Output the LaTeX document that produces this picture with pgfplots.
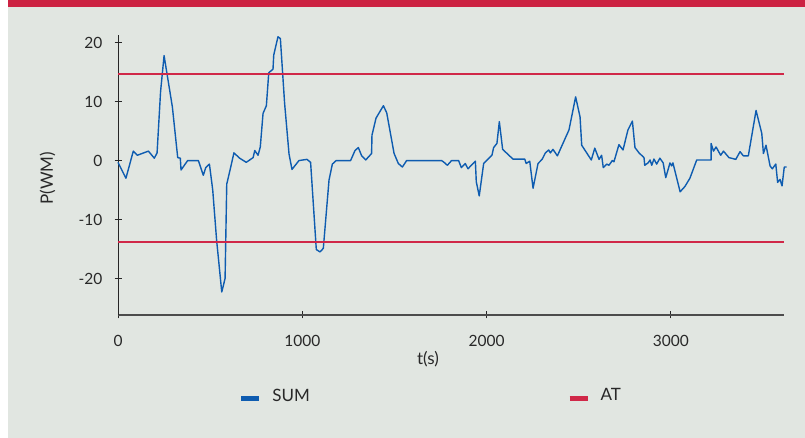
\documentclass[border=0pt]{standalone}
\usepackage{fontspec}
\setmainfont{Lato}
\usepackage{pgfplots}
\pgfplotsset{compat=1.18}
\definecolor{bgc}{RGB}{225,230,225}
\definecolor{topred}{RGB}{204,34,66}
\definecolor{sumblue}{RGB}{14,92,176}
\definecolor{atred}{RGB}{208,40,72}
\definecolor{txt}{RGB}{40,40,40}
\begin{document}
\begin{tikzpicture}[x=1pt,y=1pt]
\fill[white] (0,0) rectangle (805,438);
\fill[bgc] (8,0) rectangle (805,431);
\fill[topred] (8,431) rectangle (805,438);
\begin{axis}[
  at={(118pt,123pt)}, anchor=south west,
  scale only axis, width=665.7pt, height=280pt,
  xmin=0, xmax=3612, ymin=-26.2, ymax=21.3,
  clip=false,
  unbounded coords=jump,
  axis x line*=bottom, axis y line*=left,
  x axis line style={draw=black!70, line width=1.8pt},
  y axis line style={draw=black!85, line width=1pt},
  tick style={draw=black!85, line width=0.9pt},
  major tick length=7pt, tick align=center,
  xtick={0,1000,2000,3000}, ytick={-20,-10,0,10,20},
  /pgf/number format/assume math mode=true,
  /pgf/number format/1000 sep={},
  tick label style={font=\fontsize{15.5}{18}\selectfont, text=txt},
  xticklabel style={anchor=base, inner sep=0pt, yshift=-28.4pt},
  yticklabel style={anchor=east, inner sep=0pt, xshift=-12pt},
  xlabel={t(s)}, ylabel={P(WM)},
  label style={font=\fontsize{17}{20}\selectfont, text=txt},
  xlabel style={at={(axis description cs:0.4657,0)}, anchor=base, inner sep=0pt, yshift=-50pt},
  ylabel style={at={(axis description cs:-0.106,0.489)}, anchor=center, inner sep=0pt},
  legend columns=2,
  legend cell align=left,
  legend style={at={(axis description cs:0.1818,-0.288)}, anchor=west, draw=none, fill=none,
    inner sep=0pt, outer sep=0pt, font=\fontsize{17}{20}\selectfont, text=txt,
    nodes={inner sep=0pt, text width=295pt},
    /tikz/every even column/.append style={column sep=0pt},
    /tikz/every odd column/.append style={column sep=0pt}},
  legend image code/.code={\path[draw=none,fill=none] (0pt,0pt) -- (31pt,0pt); \draw[#1, line width=4.5pt] (0pt,-3pt) -- (18pt,-3pt);},
]
\addplot[color=sumblue, line width=1.4pt, line join=round] coordinates {
(0,-0.3) (43,-3.0) (83,1.6) (105,0.9) (165,1.6) (197,0.4) (212,1.3) (231,11.7) (250,17.8)
(295,9.1) (324,0.5) (338,0.4) (342,-1.6) (378,0) (436,0) (463,-2.5) (476,-1.2) (496,-0.6)
(514,-5.0) (535,-13.5) (563,-22.3) (581,-20.0) (590,-4.0) (608,-1.6) (629,1.3) (660,0.4)
(696,-0.3) (733,0.5) (742,1.7) (760,0.9) (772,2.3) (787,8.0) (805,9.3) (818,14.9) (841,15.5)
(845,17.9) (868,21.0) (881,20.7) (904,9.7) (928,1.1) (944,-1.5) (982,0) (1025,0.2) (1045,-0.3)
(1076,-15.1) (1096,-15.5) (1114,-14.9) (1145,-3.3) (1163,-0.6) (1184,0) (1262,0) (1286,1.7)
(1304,2.2) (1322,0.8) (1344,0.1) (1376,1.2) (1378,4.3) (1400,7.2) (1440,9.3) (1458,8.1)
(1498,1.2) (1521,-0.5) (1543,-1.1) (1566,0) (1756,0) (1769,-0.3) (1787,-0.8) (1810,0) (1848,0)
(1863,-1.2) (1884,-0.5) (1899,-1.4) (1939,-0.1) (1944,-3.6) (1960,-6.0) (1984,-0.5) (2029,0.9)
(2038,2.2) (2056,2.9) (2069,6.6) (2087,1.9) (2143,0.25) (2207,0.25) (2215,-0.5) (2234,-0.1)
(2252,-4.7) (2279,-0.5) (2301,0.2) (2319,1.3) (2337,1.8) (2346,1.3) (2360,1.9) (2384,0.8)
(2447,5.2) (2483,10.8) (2507,7.4) (2516,2.6) (2568,0.1) (2587,2.1) (2610,0.2) (2624,0.9)
(2633,-1.2) (2652,-0.6) (2664,-0.8) (2682,0) (2691,-0.2) (2718,2.7) (2740,1.8) (2767,5.2)
(2791,6.7) (2805,2.2) (2827,1.3) (2854,0.5) (2858,-0.8) (2876,-0.4) (2887,0.1) (2896,-0.8)
(2908,0.25) (2923,-0.6) (2940,0.4) (2958,-0.4) (2972,-2.9) (2995,-0.4) (3004,-0.9) (3011,-0.4)
(3050,-5.3) (3076,-4.4) (3103,-3.0) (3140,0.1) (3218,0.1) (3218,2.9) (3231,1.6) (3245,2.3)
(3270,0.9) (3285,1.6) (3315,0.5) (3352,0.2) (3375,1.5) (3393,0.8) (3420,0.8) (3462,8.5)
(3493,4.6) (3502,1.2) (3516,2.6) (3538,-0.9) (3550,-1.4) (3569,-0.6) (3579,-3.7) (3592,-3.2)
(3603,-4.3) (3615,-1.1) (3628,-1.1)
};
\addlegendentry{SUM}
\addplot[color=atred, line width=1.7pt] coordinates {(0,14.68) (3612,14.68) (3612,nan) (0,-13.82) (3612,-13.82)};
\addlegendentry{AT}
\end{axis}
\pgfresetboundingbox
\useasboundingbox (0,0) rectangle (805,438);
\end{tikzpicture}
\end{document}
